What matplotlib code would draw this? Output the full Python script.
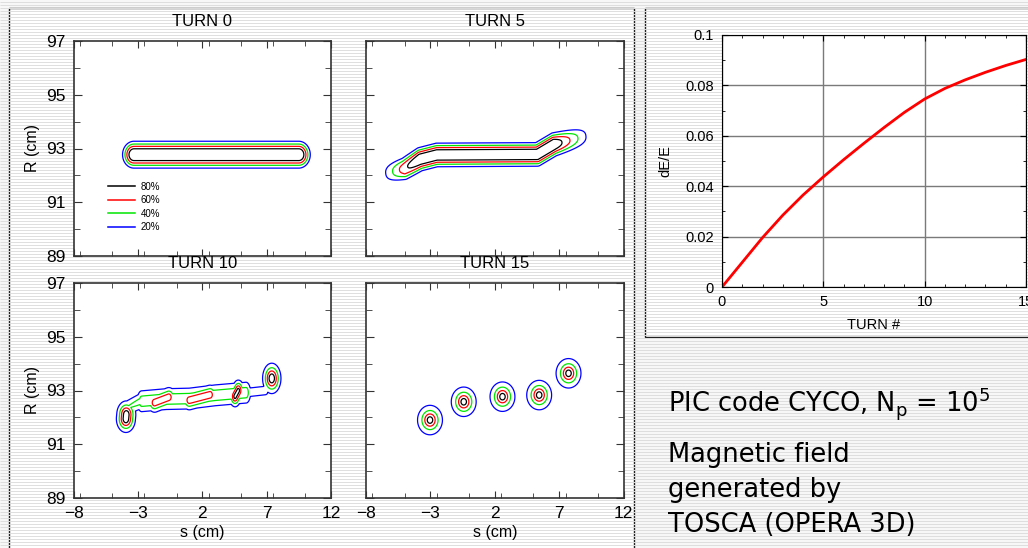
import numpy as np
import matplotlib
matplotlib.use("Agg")
import matplotlib.pyplot as plt
from matplotlib.lines import Line2D
from matplotlib.patches import Rectangle
from matplotlib.ticker import MultipleLocator, FixedLocator

plt.rcParams['font.family'] = ['Liberation Sans', 'DejaVu Sans']

# energy gain along the turns (right panel)
turns = [0, 1, 2, 3, 4, 5, 6, 7, 8, 9, 10, 11, 12, 13, 14, 15]
dE_E = [0.0, 0.0098, 0.0196, 0.0285, 0.0365, 0.0437, 0.0505, 0.0570,
        0.0633, 0.0693, 0.0746, 0.0788, 0.0822, 0.0852, 0.0879, 0.0903]

# contour levels of the bunch density (fraction of peak)
levels = [0.2, 0.4, 0.6, 0.8]
level_colors = ['#0000ff', '#00e600', '#ff0000', '#000000']
level_labels = ['20%', '40%', '60%', '80%']

# bunch: strands of (s pts, R pts, rel. density, sigma_s, sigma_R)
turn0 = [
    ([-3.3, 9.5], [92.77, 92.77], [1, 1], 0.73, 0.41),
]
turn5 = [
    ([-7.0, -5.0, -3.8, -2.5, 5.3, 6.6, 9.7],
     [92.0, 92.25, 92.6, 92.76, 92.78, 93.15, 93.55],
     [0.0, 0.75, 1, 1, 1, 1, 0.0], 0.5, 0.36),
]
turn10 = [
    ([-3.93, -3.9], [91.95, 92.1], [1, 1], 0.55, 0.38),
    ([-3.9, -2.7], [92.35, 92.62], [0.4, 0.5], 0.35, 0.3),
    ([-2.7, -0.8, 1.0, 3.0, 5.4], [92.6, 92.68, 92.7, 92.82, 92.92],
     [0.56, 0.56, 0.56, 0.56, 0.56], 0.35, 0.38),
    ([-1.7, -0.6], [92.55, 92.75], [0.76, 0.76], 0.45, 0.3),
    ([1.0, 2.6], [92.64, 92.84], [0.76, 0.76], 0.45, 0.3),
    ([4.55, 4.8], [92.78, 93.0], [0.9, 0.9], 0.35, 0.3),
    ([5.4, 6.9], [92.92, 93.0], [0.36, 0.36], 0.3, 0.22),
    ([7.4], [93.45], [1], 0.53, 0.42),
]
turn15_s = [-3.03, -0.41, 2.6, 5.45, 7.73]
turn15_R = [91.9, 92.58, 92.77, 92.83, 93.64]
turn15 = [([s], [r], [1], 0.67, 0.38) for s, r in zip(turn15_s, turn15_R)]

panels = [("TURN 0", turn0, 2.4), ("TURN 5", turn5, 2.4),
          ("TURN 10", turn10, 1.6), ("TURN 15", turn15, 1.3)]

s_axis = np.linspace(-8, 12, 801)
R_axis = np.linspace(89, 97, 481)
S, R = np.meshgrid(s_axis, R_axis)


def strand_field(s_pts, r_pts, amps, ss, sr, n):
    px, py = S / ss, R / sr
    xs = np.asarray(s_pts, float) / ss
    ys = np.asarray(r_pts, float) / sr
    a = np.asarray(amps, float)
    if len(xs) == 1:
        d = np.hypot(px - xs[0], py - ys[0])
        return a[0] * np.exp(-d ** n)
    field = np.zeros_like(px)
    for i in range(len(xs) - 1):
        dx, dy = xs[i + 1] - xs[i], ys[i + 1] - ys[i]
        t = np.clip(((px - xs[i]) * dx + (py - ys[i]) * dy) / (dx * dx + dy * dy), 0, 1)
        d = np.hypot(px - xs[i] - t * dx, py - ys[i] - t * dy)
        amp = a[i] + t * (a[i + 1] - a[i])
        field = np.maximum(field, amp * np.exp(-d ** n))
    return field


W, H = 1028, 548
fig = plt.figure(figsize=(W / 100, H / 100), dpi=100)

# striped slide background + white boxes
bg = fig.add_axes([0, 0, 1, 1], zorder=-5)
bg.set_xlim(0, W)
bg.set_ylim(H, 0)
bg.axis('off')
bg.add_patch(Rectangle((0, 0), W, H, fc='#f7f7f7', ec='none'))
bg.hlines(np.arange(1.5, H, 3), 0, W, color='#dedede', lw=0.7)
bg.add_patch(Rectangle((9, 8), 625, 560, fc='white', ec='#222222', lw=1))
bg.add_patch(Rectangle((645, 8), 420, 329, fc='white', ec='#222222', lw=1))


def px_axes(x0, y0, x1, y1):
    return fig.add_axes([x0 / W, 1 - y1 / H, (x1 - x0) / W, (y1 - y0) / H])


boxes = [(73.5, 41, 331, 256), (366, 41, 623.5, 256),
         (73.5, 283, 331, 498), (366, 283, 623.5, 498)]

for k, ((title, strands, n), box) in enumerate(zip(panels, boxes)):
    ax = px_axes(*box)
    field = np.zeros_like(S)
    for s_pts, r_pts, amps, ss, sr in strands:
        field = np.maximum(field, strand_field(s_pts, r_pts, amps, ss, sr, n))
    ax.contour(S, R, field, levels=levels, colors=level_colors, linewidths=0.9)
    ax.set_xlim(-8, 12)
    ax.set_ylim(89, 97)
    ax.xaxis.set_major_locator(FixedLocator([-8, -3, 2, 7, 12]))
    ax.xaxis.set_minor_locator(MultipleLocator(2.5))
    ax.yaxis.set_major_locator(FixedLocator([89, 91, 93, 95, 97]))
    ax.yaxis.set_minor_locator(FixedLocator([90, 92, 94, 96]))
    ax.tick_params(which='both', direction='in', top=True, right=True,
                   labelsize=12.5, pad=6, color='#333333')
    ax.tick_params(axis='x', which='major', length=5)
    ax.tick_params(axis='x', which='minor', length=3.5)
    ax.tick_params(axis='y', which='major', length=6)
    ax.tick_params(axis='y', which='minor', length=4)
    for sp in ax.spines.values():
        sp.set_linewidth(1.2)
        sp.set_color('#333333')
    ax.set_title(title, fontsize=12, pad=10.5)
    if k % 2 == 0:
        ax.set_ylabel("R (cm)", fontsize=11.5, labelpad=4)
    else:
        ax.tick_params(labelleft=False)
    if k >= 2:
        ax.set_xlabel("s (cm)", fontsize=11.5, labelpad=3)
    else:
        ax.tick_params(labelbottom=False)
    if k == 0:
        handles = [Line2D([], [], color=c, lw=1.1) for c in level_colors[::-1]]
        ax.legend(handles, level_labels[::-1], loc='upper left',
                  bbox_to_anchor=(0.135, 0.345), frameon=False, fontsize=7,
                  handlelength=2.7, handletextpad=0.6, labelspacing=0.35,
                  borderpad=0, borderaxespad=0)

# dE/E versus turn number
ax2 = px_axes(722, 35, 1026, 287)
ax2.plot(turns, dE_E, color='red', lw=2)
ax2.set_xlim(0, 15)
ax2.set_ylim(0, 0.1)
ax2.xaxis.set_major_locator(FixedLocator([0, 5, 10, 15]))
ax2.xaxis.set_minor_locator(MultipleLocator(1))
ax2.yaxis.set_major_locator(FixedLocator([0, 0.02, 0.04, 0.06, 0.08, 0.1]))
ax2.yaxis.set_minor_locator(MultipleLocator(0.01))
ax2.set_yticklabels(['0', '0.02', '0.04', '0.06', '0.08', '0.1'])
ax2.set_xticklabels(['0', '5', '10', '15'])
ax2.grid(True, which='major', color='#7a7a7a', lw=1)
ax2.tick_params(which='both', direction='in', top=True, right=True,
                labelsize=10.5, pad=6)
ax2.tick_params(which='major', length=4)
ax2.tick_params(which='minor', length=2.5)
ax2.set_xlabel("TURN #", fontsize=10.5, labelpad=6)
ax2.set_ylabel("dE/E", fontsize=10.5, labelpad=9)

# slide text
tx = 668 / W
fig.text(tx, 1 - 411.7 / H, r"PIC code CYCO, N$_\mathregular{p}$ = 10$^\mathregular{5}$",
         family='DejaVu Sans', fontsize=18.5, va='baseline')
for txt, yb in [("Magnetic field", 461.7), ("generated by", 496.7),
                ("TOSCA (OPERA 3D)", 531.7)]:
    fig.text(tx, 1 - yb / H, txt, family='DejaVu Sans', fontsize=18.5, va='baseline')

fig.savefig("out.png", dpi=100)
